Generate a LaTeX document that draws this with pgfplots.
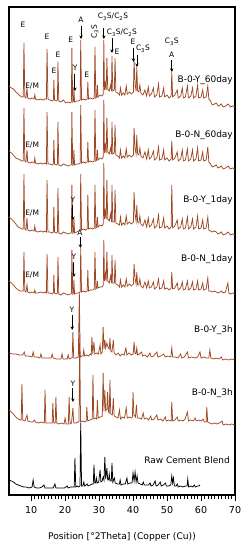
\documentclass[border=0pt]{standalone}
\usepackage{fontspec}
\setmainfont{DejaVu Sans}
\usepackage{pgfplots}
\pgfplotsset{compat=1.18}
\usetikzlibrary{arrows.meta}
\definecolor{xrd}{RGB}{158,72,36}
\begin{document}
\begin{tikzpicture}
\begin{axis}[
  scale only axis, width=226bp, height=488bp,
  xmin=3.5, xmax=70, ymin=0, ymax=488,
  xtick={10,20,...,70}, minor x tick num=9,
  ytick=\empty, xtick pos=lower, tick align=outside,
  major tick length=6bp, minor tick length=3.5bp,
  every tick/.style={black, line width=0.6pt},
  axis line style={line width=1.1pt},
  /pgf/number format/assume math mode=true,
  tick label style={font=\fontsize{9.6}{11}\selectfont},
  x tick label style={yshift=-1.5bp},
  xlabel={Position [°2Theta] (Copper (Cu))},
  every axis x label/.style={at={(axis description cs:0.5,0)}, anchor=center, yshift=-42bp, font=\fontsize{9.2}{11}\selectfont},
  clip=false,
]
% B-0-Y_60day
\addplot[xrd, line width=0.75pt] coordinates {(3.5,409) (4.2,407) (4.8,406) (5.5,403) (6.2,401) (6.8,399) (7.3,398) (7.7,398) (7.9,452) (8.15,398) (8.5,397) (8.8,407) (9.0,397) (9.6,396) (10.3,397) (10.9,396) (11.1,400) (11.3,396) (12,395) (12.8,396) (13.5,395) (14.1,396) (14.5,396) (14.7,446) (14.95,396) (15.5,395) (16.2,394) (16.55,395) (16.7,415) (16.9,395) (17.4,394) (17.75,395) (17.9,433) (18.15,394) (18.8,393) (19.5,395) (20.2,392) (20.9,393) (21.5,392) (21.85,393) (22.0,447) (22.25,393) (22.45,394) (22.6,407) (22.8,393) (23.4,394) (24.0,394) (24.45,395) (24.6,455) (24.85,395) (25.4,396) (26.0,395) (26.5,396) (26.7,413) (26.9,396) (27.5,397) (28.1,396) (28.6,397) (28.8,448) (29.05,397) (29.3,398) (29.5,410) (29.7,398) (30.3,400) (30.9,399) (31.25,401) (31.4,455) (31.6,405) (31.9,412) (32.1,405) (32.3,437) (32.55,406) (33.0,404) (33.4,410) (33.65,404) (33.8,439) (34.05,404) (34.5,405) (34.7,437) (34.95,403) (35.5,402) (36.0,400) (36.3,407) (36.6,400) (37.2,402) (37.6,400) (38.0,409) (38.3,401) (38.9,403) (39.5,401) (40.1,403) (40.3,435) (40.6,410) (40.9,404) (41.1,428) (41.35,404) (41.7,403) (42.0,410) (42.3,402) (42.9,400) (43.5,405) (44.0,399) (44.5,408) (44.8,399) (45.4,401) (46.0,407) (46.3,398) (47.0,400) (47.5,411) (47.8,398) (48.5,399) (49.0,407) (49.3,398) (50.0,400) (50.6,397) (51.2,399) (51.4,423) (51.65,398) (52.3,400) (53.0,405) (53.3,397) (54.0,399) (54.5,407) (54.8,397) (55.4,398) (56.0,409) (56.3,397) (57.0,399) (57.5,407) (57.8,397) (58.5,399) (59.0,410) (59.3,397) (60.0,398) (60.5,405) (60.8,397) (61.5,398) (62.0,409) (62.3,396) (62.8,394) (63.3,390) (64.0,391) (64.5,392) (65.0,389) (65.6,390) (66,391) (66.5,388) (67.2,389) (68,391) (68.6,388) (69.3,389) (70,388)};
% B-0-N_60day
\addplot[xrd, line width=0.75pt] coordinates {(3.5,344) (4.2,342) (4.8,340) (5.5,337) (6.2,336) (6.8,335) (7.3,334) (7.7,334) (7.9,387) (8.15,334) (8.5,333) (8.8,345) (9.0,333) (9.6,332) (10.3,333) (10.9,332) (11.1,337) (11.3,332) (12,331) (12.8,332) (13.5,331) (14.1,332) (14.5,331) (14.7,383) (14.95,331) (15.5,331) (16.2,330) (16.55,331) (16.7,355) (16.9,331) (17.4,330) (17.75,331) (17.9,373) (18.15,330) (18.8,329) (19.5,331) (20.2,330) (20.9,329) (21.5,330) (21.85,330) (22.0,383) (22.25,330) (22.45,331) (22.6,345) (22.8,330) (23.4,331) (24.0,331) (24.45,332) (24.6,390) (24.85,332) (25.4,333) (26.0,332) (26.5,333) (26.7,353) (26.9,333) (27.5,334) (28.1,333) (28.6,334) (28.8,385) (29.05,334) (29.3,335) (29.5,345) (29.7,335) (30.3,337) (30.9,336) (31.25,338) (31.4,395) (31.6,342) (31.9,350) (32.1,342) (32.3,377) (32.55,343) (33.0,341) (33.4,347) (33.65,341) (33.8,373) (34.05,341) (34.5,342) (34.7,370) (34.95,340) (35.5,339) (36.0,337) (36.3,345) (36.6,337) (37.2,339) (37.6,337) (38.0,346) (38.3,338) (38.9,340) (39.5,338) (40.1,340) (40.3,367) (40.6,346) (40.9,341) (41.1,360) (41.35,341) (41.7,340) (42.0,347) (42.3,339) (42.9,337) (43.5,343) (44.0,336) (44.5,345) (44.8,336) (45.4,338) (46.0,344) (46.3,335) (47.0,337) (47.5,348) (47.8,335) (48.5,336) (49.0,345) (49.3,335) (50.0,337) (50.6,334) (51.2,336) (51.4,354) (51.65,335) (52.3,337) (53.0,343) (53.3,334) (54.0,336) (54.5,345) (54.8,334) (55.4,335) (56.0,346) (56.3,334) (57.0,336) (57.5,345) (57.8,334) (58.5,336) (59.0,347) (59.3,334) (60.0,335) (60.5,343) (60.8,334) (61.5,335) (62.0,348) (62.3,333) (62.8,331) (63.3,328) (64.0,329) (64.5,330) (65.0,327) (65.6,328) (66,329) (66.5,326) (67.2,327) (68,329) (68.6,326) (69.3,327) (70,326)};
% B-0-Y_1day
\addplot[xrd, line width=0.75pt] coordinates {(3.5,278) (4.2,276) (4.8,274) (5.5,271) (6.2,268) (6.8,267) (7.3,266) (7.7,266) (7.9,321) (8.15,266) (8.5,265) (8.8,277) (9.0,265) (9.6,264) (10.3,265) (10.9,264) (11.1,269) (11.3,264) (12,263) (12.8,264) (13.5,263) (14.1,264) (14.5,263) (14.7,315) (14.95,263) (15.5,263) (16.2,262) (16.55,263) (16.7,288) (16.9,263) (17.4,262) (17.75,263) (17.9,307) (18.15,262) (18.8,261) (19.5,263) (20.2,262) (20.9,261) (21.5,262) (21.85,262) (22.0,310) (22.25,262) (22.45,263) (22.6,277) (22.8,262) (23.4,263) (24.0,264) (24.45,265) (24.6,321) (24.85,265) (25.4,266) (26.0,265) (26.5,266) (26.7,300) (26.9,266) (27.5,267) (28.1,266) (28.6,267) (28.8,310) (29.05,267) (29.3,268) (29.5,278) (29.7,268) (30.3,270) (30.9,269) (31.25,271) (31.4,332) (31.6,276) (31.9,284) (32.1,276) (32.3,315) (32.55,276) (33.0,274) (33.4,281) (33.65,273) (33.8,310) (34.05,273) (34.5,273) (34.7,305) (34.95,272) (35.5,271) (36.0,270) (36.3,278) (36.6,270) (37.2,272) (37.6,270) (38.0,279) (38.3,271) (38.9,273) (39.5,271) (40.1,273) (40.3,303) (40.6,280) (40.9,274) (41.1,290) (41.35,273) (41.7,272) (42.0,279) (42.3,271) (42.9,269) (43.5,275) (44.0,268) (44.5,277) (44.8,268) (45.4,270) (46.0,276) (46.3,267) (47.0,269) (47.5,280) (47.8,267) (48.5,268) (49.0,277) (49.3,267) (50.0,269) (50.6,266) (51.2,268) (51.4,310) (51.65,267) (52.3,269) (53.0,275) (53.3,266) (54.0,268) (54.5,276) (54.8,266) (55.4,267) (56.0,278) (56.3,266) (57.0,268) (57.5,276) (57.8,266) (58.5,268) (59.0,279) (59.3,266) (60.0,267) (60.5,275) (60.8,266) (61.5,267) (62.0,278) (62.3,265) (62.8,264) (63.3,263) (64.0,264) (64.5,263) (65.0,261) (65.6,262) (66,263) (66.5,260) (67.2,261) (68,263) (68.6,260) (69.3,261) (70,260)};
% B-0-N_1day
\addplot[xrd, line width=0.75pt] coordinates {(3.5,214) (4.2,212) (4.8,210) (5.5,207) (6.2,205) (6.8,204) (7.3,204) (7.7,204) (7.9,243) (8.15,204) (8.5,203) (8.8,210) (9.0,203) (9.6,202) (10.3,203) (10.9,202) (11.1,205) (11.3,202) (12,202) (12.8,203) (13.5,202) (14.1,203) (14.5,202) (14.7,241) (14.95,202) (15.5,202) (16.2,201) (16.55,202) (16.7,220) (16.9,202) (17.4,201) (17.75,202) (17.9,238) (18.15,201) (18.8,200) (19.5,202) (20.2,201) (20.9,200) (21.5,201) (21.85,201) (22.0,245) (22.25,201) (22.45,202) (22.6,215) (22.8,201) (23.4,202) (24.0,202) (24.45,203) (24.6,247) (24.85,203) (25.4,204) (26.0,203) (26.5,204) (26.7,225) (26.9,204) (27.5,205) (28.1,205) (28.6,206) (28.8,243) (29.05,206) (29.3,207) (29.5,214) (29.7,207) (30.3,208) (30.9,208) (31.25,210) (31.4,255) (31.6,214) (31.9,222) (32.1,214) (32.3,243) (32.55,214) (33.0,212) (33.4,219) (33.65,212) (33.8,240) (34.05,212) (34.5,212) (34.7,235) (34.95,211) (35.5,210) (36.0,208) (36.3,215) (36.6,208) (37.2,210) (37.6,208) (38.0,216) (38.3,209) (38.9,211) (39.5,209) (40.1,211) (40.3,231) (40.6,216) (40.9,211) (41.1,223) (41.35,210) (41.7,210) (42.0,216) (42.3,209) (42.9,207) (43.5,213) (44.0,207) (44.5,214) (44.8,207) (45.4,208) (46.0,213) (46.3,206) (47.0,208) (47.5,216) (47.8,206) (48.5,207) (49.0,214) (49.3,206) (50.0,207) (50.6,205) (51.2,207) (51.4,223) (51.65,206) (52.3,207) (53.0,212) (53.3,205) (54.0,207) (54.5,213) (54.8,205) (55.4,206) (56.0,214) (56.3,205) (57.0,207) (57.5,213) (57.8,205) (58.5,206) (59.0,214) (59.3,205) (60.0,206) (60.5,212) (60.8,205) (61.5,206) (62.0,217) (62.3,204) (62.8,204) (63.3,203) (64.0,204) (64.5,203) (65.0,202) (65.6,203) (66,204) (66.5,202) (67.2,203) (67.9,212) (68.2,202) (68.6,201) (69.3,202) (70,201)};
% B-0-Y_3h
\addplot[xrd, line width=0.75pt] coordinates {(3.5,142) (4.5,141) (5.5,141) (6.5,140) (7.5,140) (8.0,143) (8.3,139) (9.2,139) (10.3,138) (10.6,143) (10.9,138) (11.8,138) (12.6,137) (12.9,141) (13.2,137) (14.2,137) (15.2,137) (15.9,137) (16.2,141) (16.5,137) (17.5,136) (18.5,136) (18.8,136) (19.1,141) (19.4,136) (20.3,136) (20.6,136) (20.9,140) (21.2,136) (21.8,137) (22.1,137) (22.3,163) (22.55,137) (23.2,137) (23.9,138) (24.2,202) (24.45,138) (25.0,139) (25.3,139) (25.5,145) (25.75,139) (26.3,140) (26.9,139) (27.4,141) (27.7,140) (27.9,158) (28.15,141) (28.5,153) (28.75,141) (29.3,142) (29.8,141) (30.3,150) (30.55,141) (30.95,143) (31.2,168) (31.45,146) (31.7,155) (31.95,147) (32.3,152) (32.6,148) (33.0,146) (33.2,157) (33.45,144) (33.8,143) (34.2,155) (34.45,142) (35.0,140) (35.6,142) (36.2,139) (36.8,141) (37.4,140) (37.9,147) (38.2,140) (38.8,142) (39.5,140) (40.05,141) (40.3,153) (40.55,142) (40.85,141) (41.1,147) (41.35,140) (41.9,141) (42.5,143) (42.8,139) (43.5,140) (44.2,138) (45.0,142) (45.3,138) (46.1,139) (47.0,143) (47.3,138) (48.2,139) (49.0,141) (49.5,138) (50.3,139) (51.1,138) (51.4,147) (51.65,138) (52.4,138) (53.2,137) (54.0,141) (54.3,137) (55.1,138) (56.0,143) (56.3,137) (57.2,138) (58.2,137) (59.0,138) (59.7,143) (60.0,137) (60.8,138) (61.6,137) (62.3,137) (62.6,145) (62.9,137) (63.6,136) (64.4,137) (65.2,136) (66.0,138) (66.3,135) (67.2,136) (68.1,135) (69.0,136) (70,135)};
% B-0-N_3h
\addplot[xrd, line width=0.75pt] coordinates {(3.5,85) (4.2,83) (4.8,81) (5.5,78) (6.2,76) (6.8,75) (7.1,75) (7.3,111) (7.55,75) (8.2,74) (8.8,80) (9.05,74) (9.8,73) (10.5,73) (11.0,75) (11.3,73) (12.2,72) (13.1,73) (13.9,72) (14.1,105) (14.35,72) (15.0,72) (15.7,72) (16.2,72) (16.4,92) (16.65,72) (17.1,72) (17.3,98) (17.55,72) (18.2,71) (19.0,72) (19.7,71) (20.0,77) (20.3,71) (20.95,71) (21.2,98) (21.45,71) (21.9,72) (22.3,87) (22.55,72) (23.2,72) (23.8,73) (24.1,73) (24.3,160) (24.55,73) (25.2,74) (25.8,73) (26.2,74) (26.4,88) (26.65,74) (27.3,75) (28.0,76) (28.2,120) (28.45,76) (29.0,77) (29.3,76) (29.5,95) (29.75,77) (30.4,78) (30.95,79) (31.2,122) (31.45,84) (31.7,105) (31.95,84) (32.3,86) (32.5,103) (32.75,83) (33.0,82) (33.2,115) (33.45,81) (33.9,80) (34.2,97) (34.45,79) (35.0,78) (35.6,77) (36.0,85) (36.3,76) (36.9,78) (37.5,77) (38.0,87) (38.3,77) (38.9,78) (39.5,77) (39.8,78) (40.0,103) (40.25,80) (40.7,78) (41.0,90) (41.25,77) (41.9,77) (42.5,76) (43.0,82) (43.3,76) (44.0,77) (44.6,75) (45.2,79) (45.5,75) (46.2,76) (47.0,80) (47.3,75) (48.1,76) (48.8,74) (49.5,78) (49.8,74) (50.5,75) (51.2,74) (51.4,93) (51.65,74) (52.3,75) (53.0,78) (53.3,74) (54.0,75) (54.7,74) (55.3,76) (56.0,83) (56.3,74) (57.0,75) (57.7,74) (58.3,77) (58.6,74) (59.3,75) (60.0,74) (60.6,76) (61.0,73) (61.5,73) (61.7,88) (61.95,73) (62.5,72) (63.2,71) (64.0,72) (64.7,71) (65.4,72) (66.2,74) (66.5,70) (67.3,71) (68.2,70) (69.0,71) (70,70)};
% Raw Cement Blend
\addplot[black, line width=0.75pt] coordinates {(3.5,15) (4.2,14) (4.8,13) (5.5,11) (6.2,10) (7.0,9) (7.8,8) (8.6,8) (9.4,7) (10.3,8) (10.6,15) (10.9,8) (11.6,7) (12.4,7) (13.2,8) (13.8,10) (14.1,7) (14.9,7) (15.7,7) (16.5,7) (17.0,11) (17.3,7) (18.2,7) (19.0,7) (19.8,7) (20.6,9) (20.9,7) (21.6,8) (22.3,8) (22.7,8) (22.9,37) (23.15,8) (23.6,9) (24.0,8) (24.4,9) (24.6,72) (24.85,9) (25.2,9) (25.5,13) (25.75,9) (26.2,10) (26.5,11) (26.75,9) (27.4,10) (28.0,11) (28.3,11) (28.5,30) (28.75,12) (29.0,12) (29.2,17) (29.45,12) (29.9,13) (30.3,25) (30.55,13) (30.9,14) (31.2,18) (31.45,15) (31.7,38) (31.95,16) (32.3,27) (32.55,15) (32.8,15) (33.0,21) (33.25,14) (33.6,14) (33.8,32) (34.05,13) (34.5,17) (34.75,12) (35.4,11) (36.0,11) (36.2,15) (36.45,10) (37.1,11) (37.7,11) (38.2,17) (38.45,11) (39.1,12) (39.7,12) (40.0,22) (40.3,14) (40.6,23) (40.9,13) (41.2,19) (41.45,12) (42.1,11) (42.7,10) (43.0,13) (43.3,10) (44.0,10) (44.6,10) (45.0,12) (45.3,9) (45.9,10) (46.5,14) (46.8,9) (47.4,10) (48.0,13) (48.3,9) (48.9,10) (49.5,12) (49.8,9) (50.5,9) (51.1,10) (51.4,19) (51.65,12) (51.9,17) (52.15,9) (52.7,9) (53.0,11) (53.3,8) (54.0,9) (54.7,8) (55.4,9) (55.9,9) (56.1,16) (56.35,8) (57.0,9) (57.6,8) (58.0,10) (58.3,8) (59.0,9) (59.4,9) (59.7,10)};
% sample labels
\begin{scope}[every node/.style={font=\fontsize{9}{10}\selectfont, anchor=east, inner sep=0pt}]
\node at (axis cs:69.4,415) {B-0-Y\_60day};
\node at (axis cs:69.4,360) {B-0-N\_60day};
\node at (axis cs:69.4,295) {B-0-Y\_1day};
\node at (axis cs:69.4,236) {B-0-N\_1day};
\node at (axis cs:69.4,165) {B-0-Y\_3h};
\node at (axis cs:69.4,102) {B-0-N\_3h};
\node at (axis cs:68.5,35) {Raw Cement Blend};
\end{scope}
% phase annotations
\begin{scope}[every node/.style={font=\fontsize{7.5}{8.5}\selectfont, inner sep=0pt}]
\node at (axis cs:7.6,470) {E};
\node at (axis cs:10.3,409) {E/M};
\node at (axis cs:14.7,458) {E};
\node at (axis cs:17.9,440) {E};
\node at (axis cs:16.7,424) {E};
\node at (axis cs:21.7,455) {E};
\node at (axis cs:23.0,427) {Y};
\node at (axis cs:24.7,475) {A};
\node at (axis cs:26.4,420) {E};
\node[rotate=90] at (axis cs:28.8,463) {C\textsubscript{3}S};
\node at (axis cs:34.1,478) {C\textsubscript{3}S/C\textsubscript{2}S};
\node at (axis cs:36.7,462) {C\textsubscript{3}S/C\textsubscript{2}S};
\node at (axis cs:35.3,443) {E};
\node at (axis cs:40.0,453) {E};
\node at (axis cs:42.9,446) {C\textsubscript{3}S};
\node at (axis cs:51.4,453) {C\textsubscript{3}S};
\node at (axis cs:51.4,440) {A};
\node at (axis cs:10.3,350) {E/M};
\node at (axis cs:10.3,282) {E/M};
\node at (axis cs:22.3,295) {Y};
\node at (axis cs:24.4,262) {A};
\node at (axis cs:22.6,238) {Y};
\node at (axis cs:10.3,220) {E/M};
\node at (axis cs:22.0,185) {Y};
\node at (axis cs:22.3,111) {Y};
\end{scope}
\begin{scope}[-{Stealth[length=3.6pt,width=3.4pt]}, line width=0.9pt, black]
\draw (axis cs:22.9,421) -- (axis cs:22.9,404);
\draw (axis cs:24.7,469) -- (axis cs:24.7,456);
\draw (axis cs:31.4,467) -- (axis cs:31.4,456);
\draw (axis cs:33.8,457) -- (axis cs:33.8,442);
\draw (axis cs:40.1,447) -- (axis cs:40.1,433);
\draw (axis cs:41.15,440) -- (axis cs:41.15,428);
\draw (axis cs:51.4,435) -- (axis cs:51.4,423);
\draw (axis cs:22.3,290) -- (axis cs:22.3,275);
\draw (axis cs:24.5,258) -- (axis cs:24.5,247);
\draw (axis cs:22.6,233) -- (axis cs:22.6,218);
\draw (axis cs:22.1,180) -- (axis cs:22.1,165);
\draw (axis cs:22.3,107) -- (axis cs:22.3,93);
\end{scope}
\end{axis}
\path (current axis.south west) ++(-9bp,-55bp) coordinate (bl);
\path (current axis.north east) ++(17bp,7bp) coordinate (tr);
\path (bl) rectangle (tr);
\end{tikzpicture}
\end{document}
